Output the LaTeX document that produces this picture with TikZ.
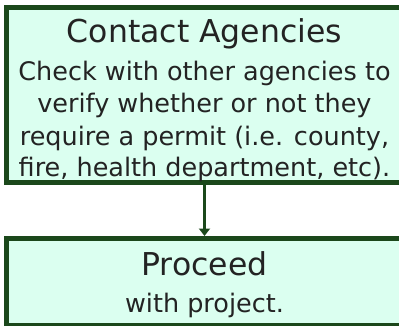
\documentclass[tikz,border=0pt]{standalone}
\usepackage{fontspec}
\setmainfont{DejaVu Sans}
\usetikzlibrary{arrows.meta}
\definecolor{boxfill}{RGB}{219,255,240}
\definecolor{boxline}{RGB}{27,72,27}
\definecolor{txt}{RGB}{35,35,35}
\tikzset{
  box/.style={draw=boxline, fill=boxfill, line width=5pt, rectangle, inner sep=0pt, outer sep=0pt},
  title/.style={text=txt, font=\fontsize{31.5}{40}\selectfont, anchor=base, inner sep=0pt},
  body/.style={text=txt, font=\fontsize{25.5}{32}\selectfont, anchor=base, inner sep=0pt},
  conn/.style={draw=boxline, line width=2.2pt, shorten <=2.5pt, shorten >=2.5pt, -{Triangle[length=7.5pt,width=11pt]}}
}
\begin{document}
\begin{tikzpicture}[x=1pt,y=-1pt]
\path[use as bounding box] (0,0) rectangle (399,326);
\clip (0,0) rectangle (399,326);
\node[box, minimum width=396pt, minimum height=175pt] (top) at (204.5,95) {};
\node[box, minimum width=396pt, minimum height=86.5pt] (bot) at (204.5,281.75) {};
\draw[conn] (top.south) -- (bot.north);
\node[title] (t1) at (204.5,43) {Contact Agencies};
\node[body] (b1) at (204.5,81) {Check with other agencies to};
\node[body] (b2) at (204.5,113) {verify whether or not they};
\node[body] (b3) at (204.5,146) {require a permit (i.e. county,};
\node[body] (b4) at (204.5,177) {fire, health department, etc).};
\node[title] (p1) at (204.5,275) {Proceed};
\node[body] (p2) at (204.5,312) {with project.};
\end{tikzpicture}
\end{document}
